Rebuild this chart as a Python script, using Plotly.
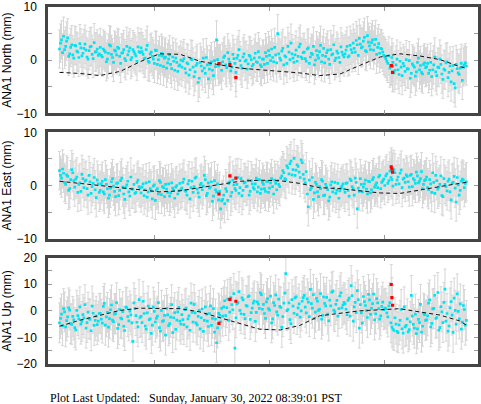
import numpy as np
import plotly.graph_objects as go
from plotly.subplots import make_subplots

# observation epochs (decimal year): two interleaved regular sets
T_A = np.linspace(2018.17, 2021.70, 200)
T_B = T_A + (T_A[1] - T_A[0]) / 2

NORTH = [
    2.1, 3.8, 4.5, 2.6, 4.2, 1.2, 2.9, 0.4, 2.7, 1.5, 3.1, 0.8, 2.2, 1.9, 0.2, 2.5, 1.1, 3.3, 1.6, 0.9,
    2.4, 0.6, 1.8, -0.3, 1.3, 2.7, 0.5, 1.9, 1.0, 2.2, -0.6, 1.4, 0.3, 2.6, 1.7, 0.1, 2.0, 1.2, -0.2, 1.6,
    2.3, 1.1, 0.4, 2.8, -0.4, 1.5, 0.2, 1.9, -0.8, 0.9, 1.3, -1.2, 0.6, -0.5, 1.0, -1.6, -0.2, 0.4, -2.1, -0.9,
    -1.3, 0.3, -2.4, -0.7, -1.8, 0.1, -3.1, -1.0, -4.2, -0.4, -2.0, -1.5, 0.5, -3.5, -0.8, -1.9, -0.1, 3.8, -1.1, -0.6,
    -0.3, 0.8, -1.4, 0.2, -2.0, 1.1, -0.6, 0.4, 2.0, -1.0, 0.6, -0.2, -1.7, 0.9, 0.1, -0.8, 1.3, -0.4, 0.5, -1.2,
    0.2, 1.4, -0.6, 0.9, 2.1, -0.3, 1.0, 5.0, 0.4, 1.7, -0.9, 0.6, 2.6, 0.1, 1.2, -0.4, 1.9, 0.7, 3.0, 0.3,
    1.5, -0.2, 2.3, 0.6, 1.1, -0.9, 1.8, 0.4, 2.8, 0.9, -0.5, 1.4, 0.2, 2.0, 1.2, -0.1, 1.7, 0.5, 2.5, 1.0,
    1.2, 2.6, 0.8, 2.0, 3.2, 1.5, 2.9, 4.1, 2.3, 3.6, 1.8, 4.6, 2.7, 3.3, 1.9, 3.9, 2.4, 1.3, 2.1, 0.9,
    0.3, -0.6, -1.5, 0.5, -2.4, -0.9, -1.8, -0.2, -2.9, -1.1, 0.1, -1.7, -3.4, -0.7, -1.3, -2.2, 0.4, -1.0, -2.6, -0.5,
    -1.2, -2.5, -0.4, -1.8, 0.6, -2.9, -1.4, -0.8, -3.6, -1.9, -0.3, -2.3, -4.1, -1.0, -5.2, -1.6, -2.7, -0.6, -1.3, -0.5,
]
NORTH_B = [
    3.2, 1.4, 2.0, 3.6, 0.7, 2.4, 1.0, 2.8, 1.7, 0.5, 2.3, 1.3, 3.0, 0.6, 1.8, 2.6, 0.3, 1.5, 2.1, 1.2,
    0.9, 2.1, 1.5, 0.2, 2.9, 1.1, -0.4, 1.7, 2.4, 0.7, 1.3, 2.0, -0.1, 1.0, 2.3, 0.5, 1.6, 0.8, 2.5, 1.4,
    1.6, 0.3, 2.0, -0.2, 1.2, 0.7, -0.6, 1.8, 0.1, -1.0, 0.8, 0.4, -1.5, 0.2, -0.8, 0.6, -1.9, -0.4, -1.1, 0.0,
    -0.2, -1.6, -0.5, -2.8, 0.2, -1.3, -2.2, -0.6, -3.4, -1.1, 0.4, -2.5, -0.9, -1.7, -0.3, -2.9, -1.2, 0.1, -0.8, -1.9,
    0.5, -0.9, 1.4, -0.4, -1.3, 0.3, -2.3, 0.9, -0.1, -1.5, 1.2, 0.0, -0.7, 0.7, -1.1, 0.4, -0.3, 1.6, -0.9, 0.2,
    -0.8, 0.7, 1.8, -0.1, 0.5, 2.4, -0.5, 1.2, 0.0, 2.2, 0.8, -0.6, 1.5, 3.2, 0.4, 1.0, -0.2, 2.5, 0.6, 1.4,
    0.3, 2.1, -0.6, 1.3, 2.6, 0.0, 0.9, 1.6, -0.3, 2.2, 0.7, 1.9, -0.8, 1.0, 2.9, 0.4, 1.3, -0.4, 1.5, 0.6,
    1.9, 0.6, 2.8, 1.4, 2.2, 3.7, 0.9, 3.0, 2.5, 4.3, 1.6, 3.4, 2.0, 3.8, 2.9, 1.1, 3.1, 2.2, 1.5, 0.6,
    -0.2, 0.8, -1.1, -0.4, -1.9, 0.2, -2.7, -1.3, -0.6, -2.1, -1.6, -0.1, -2.5, -1.0, -3.0, -0.4, -1.8, -2.3, -0.8, -1.4,
    -0.6, -1.9, -3.1, -0.9, -2.2, -1.3, 0.2, -2.6, -1.7, -0.5, -3.3, -1.1, -2.0, -4.4, -0.8, -2.4, -1.5, -3.8, -0.9, -1.1,
]

EAST = [
    2.8, 1.4, 2.3, 0.2, 1.7, -0.6, 3.0, 0.9, 1.2, -1.3, 0.5, 2.1, -0.4, 1.0, -1.8, 0.7, -0.2, 1.5, -2.3, 0.3,
    -0.9, 0.8, -1.6, 0.2, -2.4, -0.5, 1.3, -1.1, 0.4, -1.9, 0.9, -0.3, -2.6, 0.1, -1.2, 1.6, -0.7, -1.5, 0.6, -0.2,
    -1.4, 0.3, -0.8, -2.2, 0.7, -1.0, -0.1, -2.8, -0.6, 0.9, -1.7, -0.4, 0.2, -1.3, -2.0, 0.5, -0.9, -0.3, -1.6, 0.4,
    -0.5, 1.2, -1.1, 0.3, -2.5, 0.8, -0.2, 1.6, -1.4, 0.1, -0.8, 1.9, -1.9, 0.5, -0.3, -3.0, 0.9, -1.2, -2.7, -4.4,
    -2.6, -3.4, -1.1, 0.4, -2.0, 1.0, -0.6, 0.2, -1.5, 1.3, -0.9, 0.6, -0.1, -1.8, 0.9, -0.4, 0.3, -1.2, 1.1, -0.7,
    0.2, -1.1, 0.7, -0.5, 1.3, -1.6, 0.4, 0.9, -0.2, 1.8, 2.4, 1.1, 3.3, 4.1, 2.0, 5.1, 2.9, 3.6, 1.5, 4.3,
    1.2, 2.6, -4.0, -0.8, 1.5, -1.4, 0.2, -2.1, -0.6, 0.8, -1.8, -0.3, -2.9, 0.1, -1.2, 0.6, -0.9, -2.4, -0.4, 0.3,
    -1.3, 0.5, -2.0, 0.9, -0.6, 1.4, -4.4, -1.1, 0.2, -0.3, 1.0, -1.6, 0.7, -0.8, 1.5, 0.1, -0.4, 1.9, 0.6, 1.2,
    1.8, 0.4, 2.7, 1.1, 3.0, 0.2, 1.6, 2.3, -0.4, 1.4, 2.0, 0.7, 1.9, -0.2, 1.0, 2.5, 0.5, 1.3, -0.6, 0.9,
    1.6, -0.8, 0.3, 2.4, -1.5, 0.9, -0.3, 1.8, -2.1, 0.2, -1.0, 1.2, -2.7, 0.6, -0.5, 1.5, -1.8, 0.8, 1.0, 0.4,
]
EAST_B = [
    1.9, 3.1, 0.6, 2.0, -0.9, 1.1, 2.4, -0.3, 1.6, 0.2, -1.1, 1.3, 0.8, -0.6, 1.9, -1.5, 0.4, -0.8, 1.0, -1.3,
    0.3, -1.2, 1.1, -0.6, -1.8, 0.7, -0.1, -2.1, 0.5, -0.9, 1.4, -1.6, -0.4, 0.8, -2.0, -0.7, 0.2, -1.3, 1.0, -0.5,
    -0.3, -1.9, 0.5, -1.2, -0.6, -2.5, 0.1, -0.9, -1.6, 0.6, -0.2, -2.1, -0.7, 0.3, -1.4, -0.5, -2.4, 0.0, -1.0, -0.8,
    0.6, -0.9, -1.8, 0.9, -0.4, -1.3, 1.4, -0.7, -2.2, 0.4, -0.1, 1.1, -1.5, -0.5, 0.7, -2.0, -0.8, 0.3, -1.1, -2.9,
    -1.8, -0.6, -2.8, 0.7, -1.3, 0.1, -0.9, 1.5, -0.4, -1.9, 0.5, -0.2, 1.0, -1.1, 0.3, -0.7, 1.4, -0.3, -1.5, 0.6,
    -0.6, 0.8, -1.3, 0.5, -0.2, 1.0, -0.8, 0.2, 1.4, 2.8, 1.3, 3.7, 2.2, 4.6, 3.0, 1.9, 3.9, 2.5, 4.8, 2.1,
    0.5, -1.6, 1.0, -0.4, -2.6, 0.6, -1.2, -0.2, 1.1, -1.9, 0.2, -0.8, -2.2, 0.7, -0.5, -1.5, 0.4, -1.0, -0.1, -0.7,
    0.4, -0.9, 1.2, -0.2, -1.8, 0.6, -0.5, 1.3, -1.2, 0.3, -0.7, 0.8, -1.4, 1.1, -0.3, 0.5, 1.6, -0.6, 0.9, 0.0,
    2.2, 0.9, 1.5, -0.1, 2.4, 1.0, 0.3, 2.9, 1.2, 0.6, 1.7, -0.3, 2.1, 1.3, 0.4, 1.8, 0.8, 2.6, 0.2, 1.1,
    -0.4, 1.1, -1.3, 0.6, 1.9, -0.7, 0.2, -1.9, 1.3, -0.2, 0.8, -1.2, 0.4, 1.7, -3.1, 0.1, -0.9, 1.2, -0.4, 0.7,
]

UP = [
    -4.5, -1.2, 0.8, -6.0, -2.3, 0.3, -5.1, -3.4, -7.2, -1.8, 1.5, -4.0, -2.6, -6.5, -0.5, -3.2, 1.8, -5.5, -2.0, -3.9,
    -0.9, -4.6, 2.8, -2.3, -6.1, 0.4, -3.5, -1.2, 3.1, -5.2, -2.7, -0.3, -7.4, 1.2, -3.8, -1.5, -11.5, 0.9, -4.3, 4.2,
    -2.1, 3.6, -5.7, -0.8, -3.3, -8.5, 1.4, -4.2, -2.0, -6.3, 0.2, -3.7, -9.1, -1.5, -4.8, 2.3, -2.6, -7.0, -0.4, -3.9,
    -1.4, -5.2, 1.0, -3.0, -7.3, -0.6, 2.4, -4.5, -2.1, -6.8, 0.7, -3.6, -1.2, -5.9, 1.9, -2.8, -8.0, -12.0, -0.9, -4.1,
    -2.0, 3.8, 1.2, -3.6, 5.0, 0.4, -14.0, 2.6, 7.2, -1.1, 4.1, -2.9, 1.8, 5.6, -0.7, 2.9, -4.0, 3.4, 0.9, 6.1,
    2.4, -2.8, 4.6, 0.3, -4.5, 3.1, 6.0, -1.6, 1.7, -6.2, 2.9, 14.0, 0.5, -3.3, 4.2, -0.9, 5.3, 1.1, -2.4, 3.6,
    5.8, -0.8, 3.3, 8.1, 1.0, -2.9, 4.7, 0.2, 6.5, -1.7, 2.8, 5.1, -3.8, 1.9, 7.4, -0.3, 3.9, 0.8, 6.8, 2.2,
    2.6, -1.4, 4.8, 9.5, -3.9, 3.2, 7.6, -6.5, -0.8, 5.4, 2.0, -2.5, 4.1, 0.9, 6.3, -1.1, 3.0, -3.1, 1.7, 0.4,
    0.8, -2.3, 3.1, -6.1, -7.4, -5.0, -8.2, -3.6, -6.8, 1.5, -5.5, -7.9, -4.1, -2.0, -6.5, -8.6, -3.2, 2.4, -5.8, -1.4,
    -3.4, 2.9, -6.0, 0.7, 5.8, -2.5, -7.3, 1.6, -4.4, 8.2, -1.0, -5.7, 3.5, -8.1, 0.2, 6.4, -3.0, -6.9, 2.0, -5.4,
]
UP_B = [
    -2.8, -5.6, -0.4, -3.7, 1.1, -4.8, -2.1, -6.3, 0.2, -3.0, -5.0, -1.4, 2.3, -4.4, -2.9, -7.5, -0.9, -3.6, -5.2, -1.0,
    -3.1, 1.7, -5.4, -0.6, -2.9, 2.2, -4.1, -1.0, -6.6, 0.5, -3.0, -5.8, 1.4, -2.2, -0.1, -4.5, 3.0, -1.8, -6.0, -2.5,
    -4.4, -1.0, -6.9, 1.8, -3.0, -5.4, -0.2, -2.8, 3.1, -7.6, -4.0, -1.7, 0.9, -5.6, -2.4, -8.2, -0.7, -3.5, 1.3, -5.0,
    -3.3, 0.4, -6.0, -1.9, 2.9, -4.2, -0.8, -5.3, 0.2, -2.6, -7.7, 1.5, -3.9, -1.0, -5.5, 0.8, -3.1, -6.4, -1.6, 0.9,
    1.5, -1.8, 4.4, -0.5, 2.3, 6.5, -2.6, 3.1, 0.2, 4.9, -1.3, 2.0, 5.3, -3.2, 1.0, 3.7, -0.6, 2.5, 6.8, 0.6,
    -1.0, 3.4, 0.8, 5.5, -3.0, 2.0, -0.4, 4.4, 1.3, -2.2, 6.7, 0.1, 3.0, -4.8, 1.8, 4.9, -1.4, 2.6, 0.0, 5.0,
    1.4, 4.5, -2.2, 2.7, 6.1, -0.5, 3.6, 0.6, -3.1, 5.2, 1.9, -1.2, 4.0, 7.0, 0.3, 2.4, -2.0, 5.6, 1.1, 3.2,
    0.6, 3.9, -2.0, 5.7, 1.5, -0.7, 4.2, 2.3, -4.6, 3.5, 0.1, 6.2, -1.3, 2.7, -3.4, 4.6, 0.8, -1.9, 3.3, 1.0,
    -0.8, 1.9, -4.5, -6.9, -2.6, -7.7, -5.3, 0.5, -8.4, -6.0, -3.0, -7.1, 5.8, -5.1, -1.2, -6.8, -4.4, -8.0, -0.9, -3.6,
    -1.9, 4.1, -4.7, 0.9, -2.8, 6.9, -6.3, -0.4, 3.2, -3.9, -7.6, 1.1, -1.6, 4.8, -5.0, -0.2, 2.6, -4.2, 0.5, -3.6,
]

# one-sigma error per component (mm)
N_ERR = 3.6
E_ERR = 3.6
U_ERR = 7.5

# outliers (red)
RED_T = [2019.557, 2019.652, 2019.704, 2021.055, 2021.061, 2021.067]
RED_N = [-0.65, -0.84, -3.3, -1.0, -1.1, -2.3]
RED_E = [-1.6, 1.8, 1.4, 3.5, 3.1, 2.5]
RED_U = [-4.7, 4.3, 3.6, 9.9, 5.0, 2.1]

# seasonal model curve
MODEL_T = [2018.17, 2018.35, 2018.52, 2018.70, 2018.87, 2019.04, 2019.22, 2019.39, 2019.57, 2019.74, 2019.91,
           2020.09, 2020.26, 2020.43, 2020.61, 2020.78, 2020.96, 2021.13, 2021.30, 2021.48, 2021.65, 2021.71]
MODEL_N = [-2.3, -2.5, -2.9, -2.1, -0.3, 1.2, 1.1, -0.2, -0.9, -1.5, -1.8,
           -2.1, -2.4, -2.9, -2.6, -1.0, 0.6, 1.2, 0.8, 0.1, -1.2, -1.5]
MODEL_E = [0.8, 0.4, -0.1, -0.5, -0.8, -1.2, -1.0, -0.4, 0.2, 0.8, 1.0,
           0.9, 0.4, -0.4, -0.6, -1.0, -1.4, -1.5, -0.8, -0.2, 0.4, 0.6]
MODEL_U = [-5.8, -3.5, -1.7, 0.2, 1.0, 1.0, 0.8, -0.4, -2.7, -5.0, -6.9,
           -7.2, -5.5, -1.9, -0.8, 0.0, 0.4, 0.8, -0.4, -1.6, -3.8, -5.4]

YEAR_TICKS = [2019, 2020, 2021]

CYAN = "#00e4f2"
BAR = "#d6d6d6"
FRAME = "#444444"
SANS = "Liberation Sans, Arial, sans-serif"

T = np.concatenate([T_A, T_B])

panels = [
    ("ANA1 North (mm)", NORTH + NORTH_B, N_ERR, RED_N, MODEL_N, [-10, 10]),
    ("ANA1 East (mm)", EAST + EAST_B, E_ERR, RED_E, MODEL_E, [-10, 10]),
    ("ANA1 Up (mm)", UP + UP_B, U_ERR, RED_U, MODEL_U, [-20, 20]),
]

fig = make_subplots(rows=3, cols=1, vertical_spacing=19 / 357)

for row, (title, vals, err, red, model, yr) in enumerate(panels, start=1):
    # error bars for the flagged points go under everything else
    fig.add_trace(
        go.Scatter(
            x=RED_T, y=red, mode="markers",
            marker=dict(size=0.1, color="rgba(0,0,0,0)"),
            error_y=dict(type="constant", value=err, color=BAR, thickness=1, width=1.5),
            showlegend=False, hoverinfo="skip",
        ),
        row=row, col=1,
    )
    fig.add_trace(
        go.Scatter(
            x=T, y=vals, mode="markers",
            marker=dict(symbol="square", size=2.7, color=CYAN, line=dict(width=0)),
            error_y=dict(type="constant", value=err, color=BAR, thickness=1, width=1.5),
            showlegend=False,
        ),
        row=row, col=1,
    )
    fig.add_trace(
        go.Scatter(
            x=RED_T, y=red, mode="markers",
            marker=dict(symbol="square", size=3.2, color="#ff0000", line=dict(width=0)),
            showlegend=False,
        ),
        row=row, col=1,
    )
    fig.add_trace(
        go.Scatter(
            x=MODEL_T, y=model, mode="lines",
            line=dict(color="#111111", width=1, dash="4px,3px"),
            showlegend=False,
        ),
        row=row, col=1,
    )
    fig.update_yaxes(
        title=dict(text=title, font=dict(family=SANS, size=12, color="black"), standoff=5),
        range=yr, dtick=10, tick0=0,
        minor=dict(dtick=5, ticks="inside", ticklen=4, tickcolor="#999999", showgrid=False),
        row=row, col=1,
    )

fig.update_xaxes(
    range=[2018.07, 2021.81], tickvals=YEAR_TICKS, showticklabels=False,
    ticks="inside", ticklen=4, tickcolor="#999999",
    showline=True, linecolor=FRAME, linewidth=2.5, mirror="ticks",
    showgrid=False, zeroline=False, automargin=False,
)
fig.update_yaxes(
    ticks="inside", ticklen=4, tickcolor="#999999",
    showline=True, linecolor=FRAME, linewidth=2.5, mirror="ticks",
    showgrid=False, zeroline=False, automargin=False,
    tickfont=dict(family=SANS, size=12, color="black"),
    ticklabelstandoff=6,
)

fig.add_annotation(
    text="Plot Last Updated:\u00a0\u00a0\u00a0Sunday, January 30, 2022 08:39:01 PST",
    xref="paper", yref="paper", x=0, y=-(397.5 - 364) / 357,
    xanchor="left", yanchor="middle", showarrow=False,
    font=dict(family="Liberation Serif, Times New Roman, serif", size=12, color="black"),
)

fig.update_layout(
    width=481, height=404,
    margin=dict(l=48, r=3, t=7, b=40),
    paper_bgcolor="white", plot_bgcolor="white",
)

# the page's default body margin would push the 481x404 figure off the window
fig.write_html(
    "out.html",
    config={"displayModeBar": False},
    post_script="document.body.style.margin='0';",
)
